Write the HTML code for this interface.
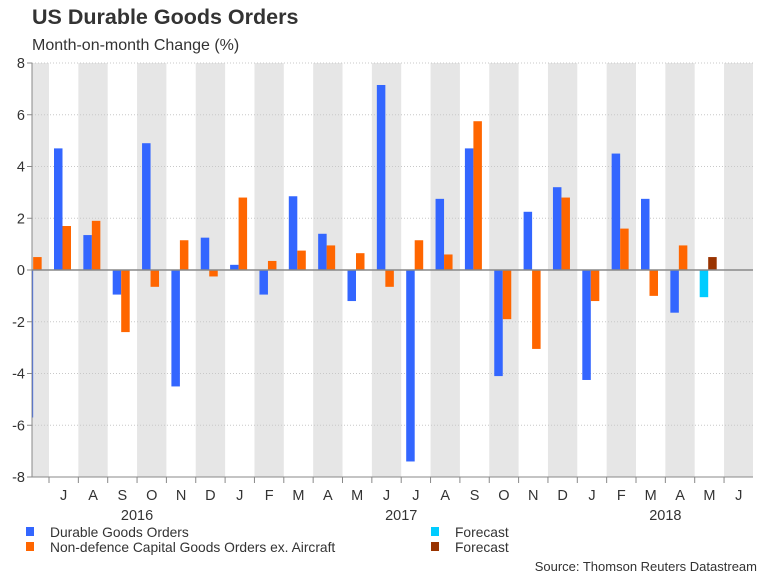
<!DOCTYPE html>
<html><head><meta charset="utf-8"><style>
body{margin:0;background:#fff;font-family:"Liberation Sans",sans-serif;}
svg{display:block}
</style></head><body>
<svg id="c" width="768" height="576" xmlns="http://www.w3.org/2000/svg" font-family="Liberation Sans, sans-serif">
<text x="32" y="24" font-size="21.5" font-weight="bold" fill="#333">US Durable Goods Orders</text>
<text x="32" y="50" font-size="16" fill="#333">Month-on-month Change (%)</text>
<g id="plot"></g>
<g font-size="13.8" fill="#333">
<rect x="26" y="527" width="8" height="9" fill="#3366ff"/>
<text x="50" y="537">Durable Goods Orders</text>
<rect x="26" y="542" width="8" height="9" fill="#ff6600"/>
<text x="50" y="552">Non-defence Capital Goods Orders ex. Aircraft</text>
<rect x="431" y="527" width="8" height="9" fill="#00ccff"/>
<text x="455" y="537">Forecast</text>
<rect x="431" y="542" width="8" height="9" fill="#993300"/>
<text x="455" y="552">Forecast</text>
</g>
<text x="757" y="571" font-size="13" fill="#333" text-anchor="end">Source: Thomson Reuters Datastream</text>
</svg>
<script>
const months=["J","J","A","S","O","N","D","J","F","M","A","M","J","J","A","S","O","N","D","J","F","M","A","M","J"];
const durable=[-5.7,4.7,1.35,-0.95,4.9,-4.5,1.25,0.2,-0.95,2.85,1.4,-1.2,7.15,-7.4,2.75,4.7,-4.1,2.25,3.2,-4.25,4.5,2.75,-1.65,null,null];
const nondef=[0.5,1.7,1.9,-2.4,-0.65,1.15,-0.25,2.8,0.35,0.75,0.95,0.65,-0.65,1.15,0.6,5.75,-1.9,-3.05,2.8,-1.2,1.6,-1.0,0.95,null,null];
const fcDurable=[null,null,null,null,null,null,null,null,null,null,null,null,null,null,null,null,null,null,null,null,null,null,null,-1.05,null];
const fcNondef=[null,null,null,null,null,null,null,null,null,null,null,null,null,null,null,null,null,null,null,null,null,null,null,0.5,null];
const yTicks=[8,6,4,2,0,-2,-4,-6,-8];
const years=["2016","2017","2018"];
const yearMonthIdx=[3.5,12.5,21.5];

const NS="http://www.w3.org/2000/svg";
const L=32,R=753,T=63,B=477,M0=19.65,MW=29.35;
const y=v=>T+(8-v)*(B-T)/16;
const mx=i=>M0+i*MW;
const g=document.getElementById('plot');
function mk(t,a){const e=document.createElementNS(NS,t);for(const k in a)e.setAttribute(k,a[k]);g.appendChild(e);return e;}
months.forEach((m,i)=>{if(i%2==0){const x0=Math.max(L,mx(i)),x1=Math.min(R,mx(i+1));
const r=mk('rect',{x:x0,y:T,width:x1-x0,height:B-T,fill:'#e6e6e6'});

}});
yTicks.forEach(v=>{
const l=mk('line',{x1:L,x2:R,y1:y(v),y2:y(v),stroke:'#c8c8c8','stroke-dasharray':'1,2'});


const tk=mk('line',{x1:L-5,x2:L,y1:y(v),y2:y(v),stroke:'#888'});


const t=mk('text',{x:25,y:y(v)+5,'font-size':14.5,fill:'#333','text-anchor':'end'});t.textContent=v;


});
function bars(arr,off,col,name){arr.forEach((v,i)=>{if(v==null)return;
let x0=mx(i)+off,x1=x0+8.5;x0=Math.max(x0,L);if(x1<=x0)return;
const r=mk('rect',{x:x0,y:Math.min(y(v),y(0)),width:x1-x0,height:Math.abs(y(v)-y(0)),fill:col});

});}
bars(durable,5,'#3366ff','bar-durable');
bars(nondef,13.5,'#ff6600','bar-nondefence');
bars(fcDurable,5,'#00ccff','bar-forecast-durable');
bars(fcNondef,13.5,'#993300','bar-forecast-nondefence');
const z=mk('line',{x1:L,x2:R,y1:y(0),y2:y(0),stroke:'#888','stroke-width':1.5});


const ya=mk('line',{x1:L,x2:L,y1:T,y2:B,stroke:'#888'});


const xa=mk('line',{x1:L,x2:R,y1:B,y2:B,stroke:'#888'});


months.forEach((m,i)=>{
if(i>0){const tk=mk('line',{x1:mx(i),x2:mx(i),y1:B,y2:B+6,stroke:'#888'});

}
if(i>0){const t=mk('text',{x:mx(i)+MW/2,y:500,'font-size':14.5,fill:'#333','text-anchor':'middle'});t.textContent=m;

}
});
years.forEach((yr,k)=>{const t=mk('text',{x:mx(yearMonthIdx[k])+MW/2,y:520,'font-size':14.5,fill:'#333','text-anchor':'middle'});t.textContent=yr;

});
</script>
</body></html>
